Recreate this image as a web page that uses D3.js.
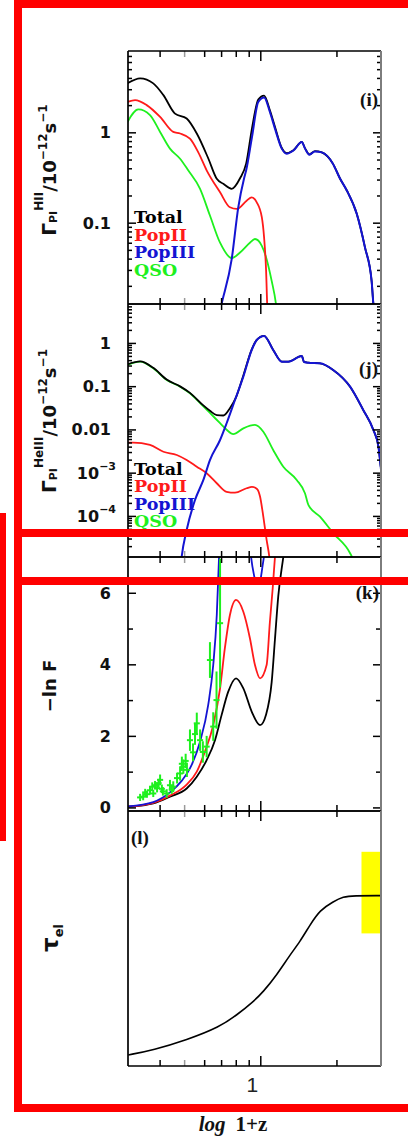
<!DOCTYPE html>
<html>
<head>
<meta charset="utf-8">
<script src="https://cdn.jsdelivr.net/npm/d3@7/dist/d3.min.js"></script>
<style>
  html, body { margin: 0; padding: 0; background: #fff; }
  svg { display: block; }
</style>
</head>
<body>
<svg id="fig" width="408" height="1138"></svg>
<script>
// ---------------------------------------------------------------
// Data. Every x value is log10(1+z).
// ---------------------------------------------------------------
const xTickOnePlusZ = [4, 5, 6, 7, 8, 9, 10, 20];
const xMajorOnePlusZ = [10];

// (i) HII photoionization rate [1e-12 s^-1]
const hiiTotal = [[0.475,3.48],[0.525,3.95],[0.577,3.48],[0.617,2.58],[0.663,1.61],[0.709,1.42],[0.749,0.97],[0.795,0.51],[0.828,0.306],[0.854,0.269],[0.887,0.237],[0.920,0.31],[0.944,0.45],[0.967,1.1],[0.992,2.3],[1.015,2.55],[1.038,1.75],[1.058,1.15],[1.085,0.67],[1.104,0.59],[1.131,0.635],[1.164,0.785],[1.177,0.665],[1.194,0.57],[1.216,0.62],[1.243,0.60],[1.287,0.45],[1.315,0.308],[1.342,0.227],[1.381,0.126],[1.414,0.053],[1.440,0.0227],[1.447,0.0126],[1.454,0.009]];
const hiiPopII = [[0.475,2.17],[0.505,2.27],[0.551,2.0],[0.604,1.48],[0.656,1.01],[0.683,0.97],[0.722,0.85],[0.755,0.60],[0.788,0.38],[0.841,0.217],[0.880,0.148],[0.907,0.142],[0.946,0.175],[0.966,0.191],[0.986,0.168],[1.006,0.115],[1.015,0.0687],[1.023,0.0293],[1.028,0.011],[1.032,0.008]];
const hiiPopIII = [[0.835,0.009],[0.847,0.0126],[0.887,0.0395],[0.913,0.148],[0.936,0.31],[0.944,0.378],[0.967,0.88],[0.992,2.17],[1.015,2.43],[1.038,1.68],[1.058,1.10],[1.085,0.66],[1.104,0.58],[1.131,0.63],[1.164,0.78],[1.177,0.66],[1.194,0.565],[1.216,0.615],[1.243,0.60],[1.287,0.45],[1.315,0.308],[1.342,0.227],[1.381,0.126],[1.414,0.053],[1.440,0.0227],[1.447,0.0126],[1.454,0.009]];
const hiiQSO = [[0.475,1.30],[0.518,1.79],[0.564,1.55],[0.604,1.01],[0.643,0.66],[0.683,0.51],[0.715,0.38],[0.762,0.237],[0.801,0.120],[0.841,0.060],[0.887,0.0406],[0.920,0.0468],[0.959,0.060],[0.979,0.066],[1.006,0.0555],[1.025,0.0395],[1.045,0.0227],[1.062,0.0126],[1.068,0.009]];

// (j) HeIII photoionization rate [1e-12 s^-1]
const heTotal = [[0.475,0.32],[0.525,0.375],[0.577,0.265],[0.630,0.142],[0.683,0.099],[0.722,0.070],[0.775,0.036],[0.801,0.027],[0.828,0.0215],[0.854,0.021],[0.880,0.031],[0.904,0.055],[0.933,0.177],[0.966,0.70],[0.986,1.18],[1.015,1.46],[1.051,0.69],[1.085,0.37],[1.111,0.37],[1.164,0.50],[1.173,0.363],[1.190,0.35],[1.236,0.338],[1.288,0.237],[1.355,0.097],[1.407,0.028],[1.447,0.0097],[1.467,0.004],[1.476,0.00137]];
const hePopII = [[0.475,4.93e-3],[0.498,4.93e-3],[0.564,4.37e-3],[0.617,3.05e-3],[0.670,2.56e-3],[0.709,1.96e-3],[0.749,1.37e-3],[0.788,9.7e-4],[0.828,5.7e-4],[0.867,3.6e-4],[0.900,3.44e-4],[0.946,4.36e-4],[0.967,4.67e-4],[0.987,4.2e-4],[0.999,2.8e-4],[1.012,9.6e-5],[1.025,2.8e-5],[1.036,1.1e-5],[1.042,5e-6]];
const hePopIII = [[0.679,3e-6],[0.689,1.12e-5],[0.709,4.73e-5],[0.742,2.33e-4],[0.775,6.78e-4],[0.801,1.96e-3],[0.841,5.69e-3],[0.867,0.0139],[0.900,0.0479],[0.933,0.166],[0.966,0.686],[0.986,1.17],[1.015,1.45],[1.051,0.686],[1.085,0.368],[1.111,0.368],[1.164,0.499],[1.173,0.362],[1.190,0.349],[1.236,0.338],[1.288,0.237],[1.355,0.0973],[1.407,0.0281],[1.447,0.0097],[1.467,0.004],[1.476,0.00137],[1.48,0.0008]];
const heQSO = [[0.475,0.309],[0.525,0.368],[0.577,0.259],[0.630,0.139],[0.683,0.0973],[0.722,0.0684],[0.775,0.034],[0.801,0.024],[0.841,0.0139],[0.867,0.0098],[0.893,0.0078],[0.933,0.0106],[0.979,0.0127],[1.012,0.00885],[1.051,0.00334],[1.091,0.00137],[1.144,6.8e-4],[1.177,3.3e-4],[1.190,1.8e-4],[1.236,9.6e-5],[1.288,4.0e-5],[1.355,1.37e-5],[1.363,1.1e-5],[1.37,8e-6]];

// (k) Lyman-alpha effective optical depth, -ln F
const lnfTotal = [[0.477,0.02],[0.53,0.05],[0.577,0.11],[0.643,0.30],[0.709,0.53],[0.749,0.86],[0.788,1.32],[0.821,1.88],[0.847,2.58],[0.873,3.23],[0.904,3.61],[0.933,3.33],[0.966,2.68],[0.999,2.30],[1.023,2.6],[1.045,3.5],[1.058,4.7],[1.071,5.9],[1.091,7.0],[1.10,7.5]];
const lnfPopII = [[0.477,0.02],[0.53,0.06],[0.577,0.13],[0.643,0.33],[0.709,0.64],[0.749,1.0],[0.781,1.56],[0.814,2.30],[0.841,3.33],[0.860,4.45],[0.880,5.38],[0.904,5.80],[0.933,5.47],[0.959,4.73],[0.979,3.98],[0.999,3.61],[1.025,3.98],[1.038,5.19],[1.049,6.12],[1.058,7.0],[1.066,7.6]];
const lnfPopIII = [[0.477,0.03],[0.577,0.15],[0.643,0.42],[0.690,0.75],[0.722,1.09],[0.762,1.84],[0.794,2.86],[0.814,3.98],[0.828,5.38],[0.837,7.0],[0.845,8.2],[0.90,12],[0.95,8.2],[0.962,7.1],[0.975,6.5],[0.985,6.25],[0.998,6.3],[1.009,6.75],[1.016,7.1],[1.025,7.8]];
// observed -ln F with errors
const obsLogZ = [0.525,0.537,0.545,0.552,0.564,0.573,0.577,0.584,0.592,0.598,0.604,0.611,0.615,0.630,0.643,0.650,0.656,0.671,0.683,0.690,0.696,0.705,0.710,0.722,0.734,0.742,0.749,0.762,0.773,0.788,0.801,0.814,0.827,0.841];
const obsLnF  = [0.28,0.30,0.42,0.37,0.48,0.58,0.39,0.62,0.54,0.68,0.77,0.52,0.45,0.39,0.62,0.50,0.58,0.82,0.95,1.22,1.14,1.30,1.05,1.88,1.54,2.05,2.35,1.88,1.55,1.70,4.12,2.26,3.0,5.15];
const obsErr  = [0.10,0.10,0.10,0.10,0.12,0.12,0.10,0.12,0.12,0.12,0.15,0.12,0.12,0.12,0.15,0.12,0.15,0.15,0.2,0.2,0.2,0.2,0.2,0.3,0.25,0.3,0.3,0.3,0.3,0.3,0.5,0.4,0.8,1.8];

// (l) electron scattering optical depth
const tauEl = [[0.478,0.0108],[0.577,0.0157],[0.709,0.0255],[0.841,0.0385],[0.907,0.050],[0.972,0.063],[1.012,0.0728],[1.065,0.0892],[1.117,0.1088],[1.157,0.1219],[1.196,0.1382],[1.236,0.1529],[1.288,0.1611],[1.328,0.166],[1.368,0.167],[1.477,0.167]];
const tauObsLogZ = [1.40, 1.477];
const tauObsRange = [0.13, 0.21];

// ---------------------------------------------------------------
// Layout and scales
// ---------------------------------------------------------------
const X0 = 128, X1 = 381;
const x = d3.scaleLinear().domain([Math.log10(3), Math.log10(30)]).range([X0, X1]);

const COLORS = { total: "#000000", popII: "#ff1a1a", popIII: "#1414d2", qso: "#1ef01e" };

const svg = d3.select("#fig");
svg.append("rect").attr("width", 408).attr("height", 1138).attr("fill", "#fff");

const panels = [
  { id: "i", top: 51,  bottom: 304,  y: d3.scaleLog().domain([Math.pow(10, -1.9), Math.pow(10, 0.9)]) },
  { id: "j", top: 304, bottom: 557,  y: d3.scaleLog().domain([Math.pow(10, -4.95), Math.pow(10, 0.9)]) },
  { id: "k", top: 557, bottom: 811,  y: d3.scaleLinear().domain([-0.1, 7.0]) },
  { id: "l", top: 811, bottom: 1066, y: d3.scaleLinear().domain([0, 0.25]) }
];
panels.forEach(p => p.y.range([p.bottom, p.top]));

const defs = svg.append("defs");
panels.forEach(p => {
  defs.append("clipPath").attr("id", "clip-" + p.id)
    .append("rect").attr("x", X0).attr("y", p.top).attr("width", X1 - X0).attr("height", p.bottom - p.top);
});

function drawLine(p, data, color, width, curve) {
  const line = d3.line().x(d => x(d[0])).y(d => p.y(d[1])).curve(curve || d3.curveMonotoneX);
  svg.append("path").datum(data)
    .attr("clip-path", `url(#clip-${p.id})`)
    .attr("fill", "none").attr("stroke", color).attr("stroke-width", width || 1.8)
    .attr("stroke-linejoin", "round").attr("d", line);
}

// ---------------------------------------------------------------
// Axes: inward ticks on every side
// ---------------------------------------------------------------
function styleAxis(sel) {
  sel.select(".domain").remove();
  sel.selectAll(".tick line").attr("stroke", "#000").attr("stroke-width", 1.5);
}

function drawXTicks(p) {
  const minor = xTickOnePlusZ.filter(v => !xMajorOnePlusZ.includes(v));
  const groups = [[minor, 6], [xMajorOnePlusZ, 10]];
  groups.forEach(([vals, len]) => {
    const tv = vals.map(v => Math.log10(v));
    svg.append("g").attr("transform", `translate(0,${p.bottom})`)
      .call(d3.axisBottom(x).tickValues(tv).tickSize(-len).tickFormat(""))
      .call(styleAxis);
    svg.append("g").attr("transform", `translate(0,${p.top})`)
      .call(d3.axisTop(x).tickValues(tv).tickSize(-len).tickFormat(""))
      .call(styleAxis);
  });
  // the 1+z = 5 tick prints lighter
  svg.selectAll(".tick").filter(d => Math.abs(d - Math.log10(5)) < 1e-9)
    .select("line").attr("stroke", "#9a9a9a");
}

function drawYTicks(p, majors, minors, majorLen, minorLen) {
  [[minors, minorLen], [majors, majorLen]].forEach(([vals, len]) => {
    svg.append("g").attr("transform", `translate(${X0},0)`)
      .call(d3.axisLeft(p.y).tickValues(vals).tickSize(-len).tickFormat(""))
      .call(styleAxis);
    svg.append("g").attr("transform", `translate(${X1},0)`)
      .call(d3.axisRight(p.y).tickValues(vals).tickSize(-len).tickFormat(""))
      .call(styleAxis);
  });
}

function logTicks(p) {
  const [lo, hi] = p.y.domain();
  const all = p.y.ticks(20).filter(v => v > lo && v < hi);
  const isPow = v => Math.abs(Math.log10(v) - Math.round(Math.log10(v))) < 1e-6;
  return { majors: all.filter(isPow), minors: all.filter(v => !isPow(v)) };
}

function drawFrame(p) {
  const g = svg.append("g").attr("fill", "none");
  g.append("line").attr("x1", X0).attr("x2", X0).attr("y1", p.top).attr("y2", p.bottom)
    .attr("stroke", "#000").attr("stroke-width", 1.7);
  g.append("line").attr("x1", X0).attr("x2", X1).attr("y1", p.top).attr("y2", p.top)
    .attr("stroke", "#000").attr("stroke-width", 1.7);
  g.append("line").attr("x1", X0).attr("x2", X1).attr("y1", p.bottom).attr("y2", p.bottom)
    .attr("stroke", "#000").attr("stroke-width", 1.7);
  g.append("line").attr("x1", X1).attr("x2", X1).attr("y1", p.top).attr("y2", p.bottom)
    .attr("stroke", "#7d7d7d").attr("stroke-width", 2);
}

const tickFont = { family: "DejaVu Sans", size: 16, weight: "bold" };
function tickLabel(xPos, yPos, main, sup) {
  const t = svg.append("text").attr("x", xPos).attr("y", yPos)
    .attr("text-anchor", "end").attr("dominant-baseline", "central")
    .attr("font-family", tickFont.family).attr("font-size", tickFont.size)
    .attr("font-weight", tickFont.weight).attr("fill", "#111");
  t.append("tspan").text(main);
  if (sup) t.append("tspan").attr("font-size", 11).attr("dy", -7).text(sup);
  return t;
}

// ---------------------------------------------------------------
// Panel (i)
// ---------------------------------------------------------------
{
  const p = panels[0];
  drawLine(p, hiiQSO, COLORS.qso);
  drawLine(p, hiiPopII, COLORS.popII);
  drawLine(p, hiiTotal, COLORS.total);
  drawLine(p, hiiPopIII, COLORS.popIII, 2);
  const t = logTicks(p);
  drawYTicks(p, t.majors, t.minors, 8, 4);
  tickLabel(111, p.y(1), "1");
  tickLabel(111, p.y(0.1), "0.1");
}

// ---------------------------------------------------------------
// Panel (j)
// ---------------------------------------------------------------
{
  const p = panels[1];
  drawLine(p, heQSO, COLORS.qso);
  drawLine(p, hePopII, COLORS.popII);
  drawLine(p, heTotal, COLORS.total);
  drawLine(p, hePopIII, COLORS.popIII, 2);
  const t = logTicks(p);
  drawYTicks(p, t.majors, t.minors, 8, 4);
  tickLabel(111, p.y(1), "1");
  tickLabel(111, p.y(0.1), "0.1");
  tickLabel(111, p.y(0.01), "0.01");
  tickLabel(116, p.y(1e-3), "10", "\u22123");
  tickLabel(116, p.y(1e-4), "10", "\u22124");
}

// ---------------------------------------------------------------
// Panel (k)
// ---------------------------------------------------------------
{
  const p = panels[2];
  drawLine(p, lnfTotal, COLORS.total);
  drawLine(p, lnfPopII, COLORS.popII);
  drawLine(p, lnfPopIII, COLORS.popIII);
  const obs = obsLogZ.map((lz, i) => ({ lz, v: obsLnF[i], e: obsErr[i] }));
  const og = svg.append("g").attr("clip-path", "url(#clip-k)")
    .attr("stroke", COLORS.qso).attr("stroke-width", 2);
  og.selectAll("line.ey").data(obs).join("line").attr("class", "ey")
    .attr("x1", d => x(d.lz)).attr("x2", d => x(d.lz))
    .attr("y1", d => p.y(d.v - d.e)).attr("y2", d => p.y(d.v + d.e));
  og.selectAll("line.ex").data(obs).join("line").attr("class", "ex")
    .attr("x1", d => x(d.lz - 0.012)).attr("x2", d => x(d.lz + 0.012))
    .attr("y1", d => p.y(d.v)).attr("y2", d => p.y(d.v));
  const ticks = d3.range(0, 7);
  drawYTicks(p, ticks.filter(v => v % 2 === 0), ticks.filter(v => v % 2 === 1), 8, 5);
  [0, 2, 4, 6].forEach(v => tickLabel(111, p.y(v), String(v)));
}

// ---------------------------------------------------------------
// Panel (l)
// ---------------------------------------------------------------
{
  const p = panels[3];
  svg.append("rect")
    .attr("x", x(tauObsLogZ[0])).attr("width", x(tauObsLogZ[1]) - x(tauObsLogZ[0]))
    .attr("y", p.y(tauObsRange[1])).attr("height", p.y(tauObsRange[0]) - p.y(tauObsRange[1]))
    .attr("fill", "#ffff00");
  const smooth = d3.curveBasis;
  drawLine(p, tauEl, COLORS.total, 1.6, smooth);
  drawLine(p, tauEl.filter(d => d[0] >= 1.38), COLORS.total, 3, smooth);
}

panels.forEach(p => { drawXTicks(p); drawFrame(p); });

// ---------------------------------------------------------------
// Legends, panel tags and axis titles
// ---------------------------------------------------------------
const legendEntries = [["Total", COLORS.total], ["PopII", COLORS.popII], ["PopIII", COLORS.popIII], ["QSO", COLORS.qso]];
function legend(x0, baselines) {
  svg.append("g").selectAll("text").data(legendEntries).join("text")
    .attr("x", x0).attr("y", (d, i) => baselines[i])
    .attr("font-family", "DejaVu Serif").attr("font-weight", "bold").attr("font-size", 17.5)
    .attr("fill", d => d[1]).text(d => d[0]);
}
legend(134, [223, 240.5, 258, 276]);
legend(134, [475, 492, 510, 527]);

function tag(xp, yp, txt, anchor) {
  svg.append("text").attr("x", xp).attr("y", yp).attr("text-anchor", anchor || "end")
    .attr("dominant-baseline", "central")
    .attr("font-family", "Liberation Serif").attr("font-weight", "bold").attr("font-size", 19)
    .attr("fill", "#111").text(txt);
}
tag(378, 99, "(i)");
tag(378, 368, "(j)");
tag(379, 592, "(k)");
tag(131, 837, "(l)", "start");

function yTitle(cx, cy, parts) {
  const t = svg.append("text").attr("transform", `translate(${cx},${cy}) rotate(-90)`)
    .attr("text-anchor", "middle").attr("font-family", "DejaVu Sans")
    .attr("font-weight", "bold").attr("fill", "#111");
  parts.forEach(([txt, size, dy]) => t.append("tspan").attr("font-size", size).attr("dy", dy).text(txt));
}
yTitle(56, 170, [["\u0393", 20, 0], ["PI", 11, 1], ["HII", 12, -14], ["/10", 18, 13], ["\u221212", 12, -9], ["s", 18, 9], ["\u22121", 12, -9]]);
yTitle(56, 421, [["\u0393", 20, 0], ["PI", 11, 1], ["HeIII", 12, -14], ["/10", 18, 13], ["\u221212", 12, -9], ["s", 18, 9], ["\u22121", 12, -9]]);
yTitle(56, 686, [["\u2212ln F", 18, 0]]);
yTitle(58, 938, [["\u03c4", 23, 0], ["el", 13, 5]]);

// x tick label and axis title
svg.append("text").attr("x", x(1) - 8).attr("y", 1092).attr("text-anchor", "middle")
  .attr("font-family", "Liberation Sans").attr("font-size", 21).attr("fill", "#222").text("1");
const xt = svg.append("text").attr("x", 233).attr("y", 1131).attr("text-anchor", "middle")
  .attr("font-family", "Liberation Serif").attr("font-size", 21).attr("fill", "#111");
xt.append("tspan").attr("font-style", "italic").attr("font-weight", "bold").text("log");
xt.append("tspan").attr("font-weight", "bold").attr("dx", 10).text("1+z");

// ---------------------------------------------------------------
// Red frame markings over the figure
// ---------------------------------------------------------------
const marks = [
  [14, 0, 394, 8], [14, 0, 8, 1112], [14, 1104, 394, 8],
  [14, 529, 394, 8], [14, 577, 394, 8], [0, 513, 6, 328]
];
svg.append("g").selectAll("rect").data(marks).join("rect")
  .attr("x", d => d[0]).attr("y", d => d[1]).attr("width", d => d[2]).attr("height", d => d[3])
  .attr("fill", "#ff0000");
</script>
</body>
</html>
